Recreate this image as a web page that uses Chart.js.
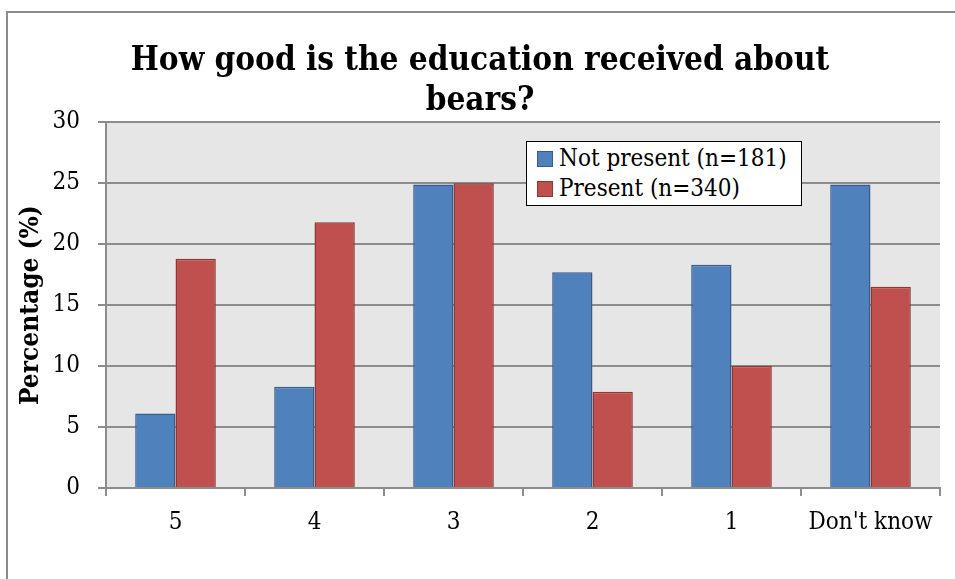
<!DOCTYPE html>
<html>
<head>
<meta charset="utf-8">
<script src="https://cdn.jsdelivr.net/npm/chart.js@4.4.1/dist/chart.umd.min.js"></script>
<style>
    body { margin: 0; background: #fff; }
    #box { position: relative; width: 955px; height: 579px; }
    #legendBox {
        position: absolute; left: 526px; top: 141px; width: 274px; height: 63px;
        background: #fff; border: 1.5px solid #000;
        font-family: 'DejaVu Serif Condensed', 'DejaVu Serif', serif; font-size: 24px; color: #000;
    }
    .legend-item { position: absolute; left: 10px; height: 30px; line-height: 30px; white-space: nowrap; }
    .legend-item span { display: inline-block; width: 14px; height: 14px; margin-right: 6px; vertical-align: -1px; border: 1px solid; }
</style>
</head>
<body>
<div id="box">
    <canvas id="bearChart" width="955" height="579"></canvas>
    <div id="legendBox"></div>
</div>
<script>
var categories = ["5", "4", "3", "2", "1", "Don't know"];
var notPresent = [6.1, 8.3, 24.9, 17.7, 18.3, 24.9];
var present = [18.8, 21.8, 25.0, 7.9, 10.0, 16.5];
var seriesNames = ["Not present (n=181)", "Present (n=340)"];
var yTicks = [0, 5, 10, 15, 20, 25, 30];

var serif = "'DejaVu Serif Condensed', 'DejaVu Serif', serif";

// grey plot area and the outer frame
var framePlugin = {
    id: 'frame',
    beforeDraw: function (chart) {
        var ctx = chart.ctx;
        var a = chart.chartArea;
        ctx.save();
        ctx.fillStyle = '#ffffff';
        ctx.fillRect(0, 0, chart.width, chart.height);
        ctx.strokeStyle = '#8c8c8c';
        ctx.lineWidth = 2;
        ctx.beginPath();
        ctx.moveTo(7, chart.height);
        ctx.lineTo(7, 12);
        ctx.lineTo(chart.width, 12);
        ctx.stroke();
        ctx.fillStyle = '#e6e6e6';
        ctx.fillRect(a.left, a.top, a.right - a.left, a.bottom - a.top);
        ctx.restore();
    }
};

var bearChart = new Chart(document.getElementById('bearChart'), {
    type: 'bar',
    data: {
        labels: categories,
        datasets: [{
            label: seriesNames[0],
            data: notPresent,
            backgroundColor: '#4f81bd',
            borderColor: '#385d8a',
            borderWidth: 1.5
        },
        {
            label: seriesNames[1],
            data: present,
            backgroundColor: '#c0504d',
            borderColor: '#8c3836',
            borderWidth: 1.5
        }]
    },
    options: {
        responsive: false,
        animation: false,
        categoryPercentage: 0.58,
        barPercentage: 1,
        layout: { padding: { left: 20, right: 15, top: 0, bottom: 0 } },
        plugins: {
            legend: { display: false },
            tooltip: { enabled: false },
            title: {
                display: true,
                text: ['How good is the education received about', 'bears?'],
                color: '#000',
                font: { family: serif, size: 33, weight: 'bold', lineHeight: 1.2 },
                padding: { top: 42, bottom: 1 }
            }
        },
        scales: {
            x: {
                grid: { drawOnChartArea: false, color: '#8c8c8c', lineWidth: 2, tickLength: 8 },
                border: { color: '#8c8c8c', width: 2 },
                ticks: { color: '#000', font: { family: serif, size: 24 }, padding: 12, maxRotation: 0 },
                afterFit: function (scale) { scale.height = 91; }
            },
            y: {
                min: 0,
                max: 30,
                afterBuildTicks: function (scale) {
                    scale.ticks = yTicks.map(function (v) { return { value: v }; });
                },
                grid: { color: '#8c8c8c', lineWidth: 2, tickLength: 8 },
                border: { color: '#8c8c8c', width: 2 },
                ticks: { color: '#000', font: { family: serif, size: 24 }, padding: 18 },
                title: {
                    display: true,
                    text: 'Percentage (%)',
                    color: '#000',
                    font: { family: serif, size: 26, weight: 'bold', lineHeight: 1 },
                    padding: { top: -1.5, bottom: 0 }
                },
                afterFit: function (scale) { scale.width = 86; }
            }
        }
    },
    plugins: [framePlugin]
});

// legend sits inside the plot, built from the datasets
var html = '';
bearChart.data.datasets.forEach(function (ds, i) {
    html += '<div class="legend-item" style="top:' + (1 + i * 30) + 'px"><span style="background:' +
        ds.backgroundColor + ';border-color:' + ds.borderColor + '"></span>' + ds.label + '</div>';
});
document.getElementById('legendBox').innerHTML = html;
</script>
</body>
</html>
